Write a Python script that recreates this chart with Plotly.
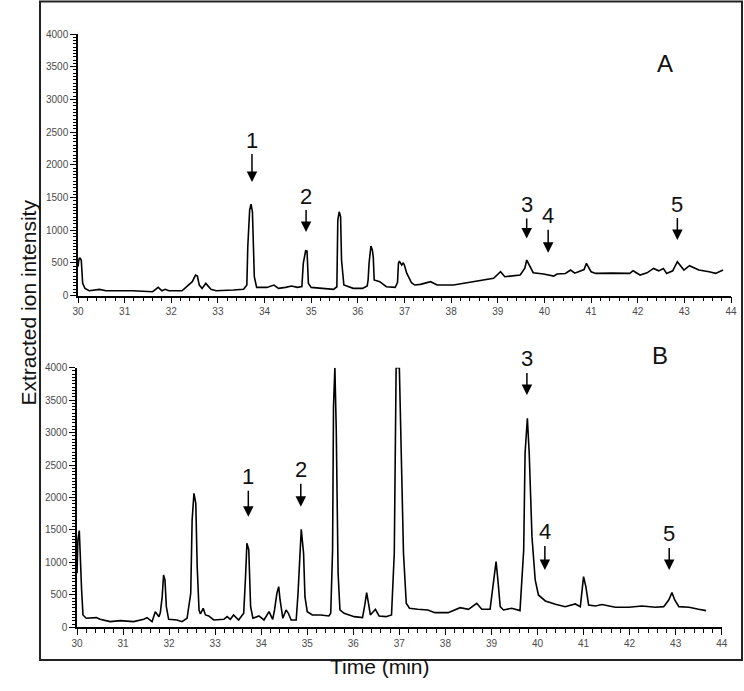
import plotly.graph_objects as go

# ---------------- data ----------------
time_a = [30.00, 30.02, 30.04, 30.07, 30.10, 30.15, 30.24, 30.35, 30.46, 30.60, 31.17, 31.60, 31.72, 31.80,
          31.87, 31.95, 32.23, 32.45, 32.52, 32.56, 32.60, 32.66, 32.74, 32.85, 32.96, 33.33, 33.55, 33.62,
          33.64, 33.68, 33.71, 33.74, 33.78, 33.83, 34.05, 34.20, 34.30, 34.45, 34.58, 34.70, 34.80, 34.83,
          34.88, 34.91, 34.94, 35.00, 35.20, 35.48, 35.55, 35.57, 35.60, 35.63, 35.65, 35.70, 35.90, 36.10,
          36.20, 36.22, 36.24, 36.28, 36.31, 36.33, 36.35, 36.47, 36.61, 36.80, 36.85, 36.87, 36.89, 36.94,
          36.97, 36.99, 37.05, 37.15, 37.22, 37.34, 37.56, 37.70, 38.05, 38.34, 38.63, 38.91, 39.06, 39.15,
          39.48, 39.58, 39.62, 39.68, 39.76, 39.98, 40.10, 40.20, 40.27, 40.45, 40.56, 40.65, 40.85, 40.90,
          41.00, 41.10, 41.45, 41.83, 41.90, 42.05, 42.20, 42.34, 42.45, 42.55, 42.62, 42.75, 42.85, 42.99,
          43.11, 43.31, 43.53, 43.67, 43.83]
intensity_a = [443, 560, 575, 545, 188, 112, 76, 86, 97, 76, 76, 61, 127, 76,
               97, 76, 76, 214, 316, 300, 163, 112, 188, 97, 76, 86, 97, 163,
               748, 1308, 1400, 1280, 290, 127, 127, 163, 112, 127, 148, 127, 140, 494,
               687, 680, 188, 127, 112, 97, 137, 1155, 1283, 1206, 545, 163, 112, 112,
               150, 240, 494, 760, 700, 595, 240, 214, 137, 127, 200, 494, 529, 468,
               500, 483, 341, 198, 163, 173, 214, 163, 163, 198, 229, 265, 366, 290,
               316, 420, 545, 468, 351, 331, 310, 300, 331, 340, 392, 345, 400, 494,
               366, 341, 345, 341, 382, 316, 350, 417, 380, 417, 341, 380, 519, 392,
               458, 392, 366, 341, 392]

time_b = [30.00, 30.02, 30.05, 30.07, 30.10, 30.13, 30.20, 30.42, 30.50, 30.72, 30.94, 31.23, 31.45, 31.52,
          31.63, 31.70, 31.78, 31.81, 31.85, 31.88, 31.91, 31.94, 31.99, 32.17, 32.28, 32.39, 32.47, 32.50,
          32.54, 32.58, 32.61, 32.65, 32.68, 32.74, 32.79, 32.86, 32.97, 33.19, 33.26, 33.33, 33.40, 33.51,
          33.62, 33.66, 33.69, 33.73, 33.77, 33.82, 33.95, 34.06, 34.17, 34.25, 34.29, 34.34, 34.38, 34.41,
          34.47, 34.54, 34.59, 34.65, 34.76, 34.80, 34.84, 34.87, 34.92, 34.95, 35.00, 35.11, 35.29, 35.47,
          35.51, 35.55, 35.57, 35.60, 35.63, 35.67, 35.71, 35.80, 36.02, 36.20, 36.25, 36.29, 36.33, 36.37,
          36.48, 36.56, 36.71, 36.83, 36.89, 36.93, 37.00, 37.04, 37.09, 37.15, 37.22, 37.40, 37.62, 37.77,
          38.06, 38.32, 38.50, 38.68, 38.79, 38.97, 39.06, 39.10, 39.14, 39.19, 39.26, 39.44, 39.62, 39.70,
          39.73, 39.78, 39.82, 39.88, 39.95, 40.02, 40.17, 40.39, 40.60, 40.71, 40.82, 40.93, 41.00, 41.05,
          41.11, 41.26, 41.40, 41.69, 41.98, 42.27, 42.56, 42.74, 42.85, 42.92, 42.98, 43.07, 43.29, 43.50,
          43.66]
intensity_b = [832, 1346, 1490, 1037, 575, 190, 139, 149, 123, 87, 103, 87, 123, 149,
               87, 241, 164, 226, 472, 806, 729, 318, 123, 113, 87, 139, 524, 1654,
               2065, 1911, 935, 267, 205, 293, 190, 175, 113, 123, 164, 123, 190, 113,
               216, 781, 1294, 1192, 318, 139, 175, 113, 241, 123, 267, 524, 627, 421,
               139, 267, 216, 113, 113, 524, 1140, 1510, 1140, 472, 241, 190, 190, 175,
               216, 1192, 3400, 4000, 3040, 832, 267, 216, 164, 149, 344, 534, 370, 190,
               277, 175, 164, 190, 1140, 4000, 4000, 2578, 1140, 370, 293, 277, 267, 226,
               226, 303, 277, 370, 277, 277, 832, 1012, 729, 318, 267, 293, 257, 1192,
               2681, 3220, 2681, 1397, 729, 498, 406, 354, 318, 344, 360, 318, 781, 627,
               344, 329, 350, 308, 308, 329, 308, 318, 421, 534, 421, 318, 308, 277,
               257]

peak_labels = ["1", "2", "3", "4", "5"]
peak_time_a = [33.73, 34.89, 39.62, 40.08, 42.85]
peak_tip_a = [1736, 973, 876, 656, 850]
peak_time_b = [33.72, 34.86, 39.77, 40.16, 42.86]
peak_tip_b = [1704, 1858, 3580, 883, 883]

x_ticks = list(range(30, 45))
y_ticks = list(range(0, 4001, 500))

# ---------------- figure ----------------
W, H = 744, 691
def px(x):
    return x / W
def py(y):
    return 1 - y / H

fig = go.Figure()
line_style = dict(color="black", width=1.6)
fig.add_trace(go.Scatter(x=time_a, y=intensity_a, mode="lines", line=line_style,
                         xaxis="x", yaxis="y", showlegend=False, hoverinfo="skip"))
fig.add_trace(go.Scatter(x=time_b, y=intensity_b, mode="lines", line=line_style,
                         xaxis="x2", yaxis="y2", showlegend=False, hoverinfo="skip"))

tick_font = dict(family="Liberation Sans, Arial, sans-serif", size=10, color="#4a4a4a")

def xaxis_cfg(domain, anchor):
    return dict(domain=domain, anchor=anchor, range=[30, 44], showgrid=False, zeroline=False,
                showline=True, linecolor="black", linewidth=1.5, automargin=False,
                ticks="outside", ticklen=6, tickwidth=1.3, tickcolor="black",
                tickvals=x_ticks, ticktext=[str(v) for v in x_ticks], tickfont=tick_font,
                minor=dict(dtick=0.2, tick0=30, ticks="outside", ticklen=4, tickwidth=1.1, tickcolor="black"),
                fixedrange=True)

def yaxis_cfg(domain, anchor):
    return dict(domain=domain, anchor=anchor, range=[0, 4000], showgrid=False, zeroline=False,
                showline=True, linecolor="black", linewidth=1.5, automargin=False,
                ticks="outside", ticklen=6, tickwidth=1.3, tickcolor="black",
                tickvals=y_ticks, ticktext=[str(v) for v in y_ticks], tickfont=tick_font,
                minor=dict(dtick=50, tick0=0, ticks="outside", ticklen=3, tickwidth=1, tickcolor="black"),
                fixedrange=True)

fig.update_layout(
    width=W, height=H,
    margin=dict(l=0, r=0, t=0, b=0, pad=0, autoexpand=False),
    paper_bgcolor="white", plot_bgcolor="white",
    showlegend=False,
    hovermode=False,
    xaxis=xaxis_cfg([px(78), px(731)], "y"),
    yaxis=yaxis_cfg([py(295.7), py(34)], "x"),
    xaxis2=xaxis_cfg([px(77), px(721.7)], "y2"),
    yaxis2=yaxis_cfg([py(627.3), py(367.7)], "x2"),
)

# outer frame
fig.add_shape(type="rect", xref="paper", yref="paper",
              x0=px(40), x1=px(742), y0=py(660), y1=py(1.5),
              line=dict(color="#222", width=2), fillcolor="rgba(0,0,0,0)")

label_font = dict(family="Liberation Sans, Arial, sans-serif", size=22, color="#111")
ay_a = [-42, -36, -34, -37, -36]
ay_b = [-40, -37, -36, -38, -36]
for lab, t, v, ay in zip(peak_labels, peak_time_a, peak_tip_a, ay_a):
    fig.add_annotation(x=t, y=v, xref="x", yref="y", text=lab, showarrow=True,
                       ax=0, ay=ay, arrowhead=2, arrowsize=1.4, arrowwidth=1.5,
                       arrowcolor="black", font=label_font)
for lab, t, v, ay in zip(peak_labels, peak_time_b, peak_tip_b, ay_b):
    fig.add_annotation(x=t, y=v, xref="x2", yref="y2", text=lab, showarrow=True,
                       ax=0, ay=ay, arrowhead=2, arrowsize=1.4, arrowwidth=1.5,
                       arrowcolor="black", font=label_font)

panel_font = dict(family="Liberation Sans, Arial, sans-serif", size=24, color="#111")
fig.add_annotation(x=px(675), y=py(48), xref="paper", yref="paper", text="A",
                   showarrow=False, font=panel_font)
fig.add_annotation(x=px(670), y=py(355), xref="paper", yref="paper", text="B",
                   showarrow=False, font=panel_font)

title_font = dict(family="Liberation Sans, Arial, sans-serif", size=21, color="#111")
fig.add_annotation(x=px(14), y=py(303), xref="paper", yref="paper", text="Extracted ion intensity",
                   textangle=-90, showarrow=False, font=title_font)
fig.add_annotation(x=px(380), y=py(680), xref="paper", yref="paper", text="Time (min)",
                   showarrow=False, font=title_font)

# remove the browser's default 8px body margin so the 744x691 figure fills the window exactly
fig.write_html("out.html", config={"displayModeBar": False},
               post_script="document.body.style.margin='0px';")
